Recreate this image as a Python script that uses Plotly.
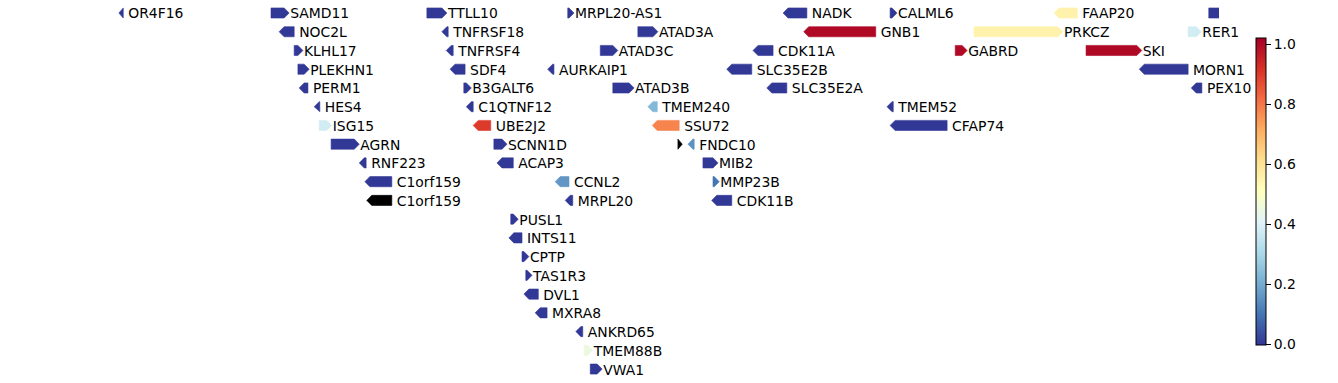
import plotly.graph_objects as go
import plotly.express as px
from plotly.colors import sample_colorscale

# ---- data (positions in kb) ----
genes = ["OR4F16", "SAMD11", "NOC2L", "KLHL17", "PLEKHN1", "PERM1", "HES4", "ISG15",
         "AGRN", "RNF223", "C1orf159", "C1orf159", "TTLL10", "TNFRSF18", "TNFRSF4",
         "SDF4", "B3GALT6", "C1QTNF12", "UBE2J2", "SCNN1D", "ACAP3", "PUSL1", "INTS11",
         "CPTP", "TAS1R3", "DVL1", "MXRA8", "AURKAIP1", "CCNL2", "MRPL20-AS1", "MRPL20",
         "ANKRD65", "TMEM88B", "VWA1", "ATAD3C", "ATAD3B", "ATAD3A", "TMEM240", "SSU72",
         "", "FNDC10", "MIB2", "MMP23B", "CDK11B", "SLC35E2B", "CDK11A", "SLC35E2A",
         "NADK", "GNB1", "CALML6", "TMEM52", "CFAP74", "GABRD", "PRKCZ", "FAAP20", "SKI",
         "MORN1", "RER1", "PEX10", "PLCH2"]
starts = [681, 924, 937, 961, 967, 969, 993, 1001,
          1020, 1065, 1074, 1077, 1173, 1197, 1204,
          1210, 1232, 1236, 1247, 1280, 1285, 1307, 1304,
          1325, 1331, 1328, 1346, 1366, 1378, 1398, 1394,
          1411, 1424, 1434, 1450, 1470, 1510, 1526, 1533,
          1574, 1590, 1614, 1630, 1628, 1652, 1694, 1716,
          1742, 1775, 1913, 1908, 1913, 2017, 2047, 2175, 2226,
          2311, 2389, 2394, 2422]
ends = [688, 953, 961, 975, 985, 983, 1002, 1021,
        1065, 1076, 1117, 1117, 1205, 1207, 1215,
        1234, 1244, 1247, 1275, 1301, 1311, 1319, 1325,
        1336, 1341, 1351, 1365, 1376, 1400, 1408, 1406,
        1422, 1438, 1453, 1478, 1504, 1542, 1541, 1576,
        1581, 1600, 1638, 1640, 1660, 1692, 1726, 1748,
        1780, 1890, 1924, 1918, 2004, 2036, 2189, 2212, 2315,
        2389, 2410, 2411, 2505]
strands = ["-", "+", "-", "+", "+", "-", "-", "+",
           "+", "-", "-", "-", "+", "-", "-",
           "-", "+", "-", "-", "+", "-", "+", "-",
           "+", "+", "-", "-", "-", "-", "+", "-",
           "-", "+", "+", "+", "+", "+", "-", "-",
           "+", "-", "+", "+", "-", "-", "-", "-",
           "-", "-", "+", "-", "-", "+", "+", "-", "+",
           "-", "+", "-", "+"]
rows = [0, 0, 1, 2, 3, 4, 5, 6,
        7, 8, 9, 10, 0, 1, 2,
        3, 4, 5, 6, 7, 8, 11, 12,
        13, 14, 15, 16, 3, 9, 0, 10,
        17, 18, 19, 2, 4, 1, 5, 6,
        7, 7, 8, 9, 10, 3, 2, 4,
        0, 1, 0, 5, 6, 2, 1, 0, 2,
        3, 1, 4, 0]
# None = no value (drawn black)
values = [0.0, 0.0, 0.0, 0.0, 0.0, 0.0, 0.0, 0.38,
          0.0, 0.0, 0.0, None, 0.0, 0.0, 0.0,
          0.0, 0.0, 0.0, 0.9, 0.0, 0.0, 0.0, 0.0,
          0.0, 0.0, 0.0, 0.0, 0.0, 0.16, 0.0, 0.0,
          0.0, 0.45, 0.0, 0.0, 0.0, 0.0, 0.23, 0.78,
          None, 0.15, 0.0, 0.1, 0.0, 0.0, 0.0, 0.0,
          0.0, 1.0, 0.0, 0.0, 0.0, 1.0, 0.55, 0.55, 1.0,
          0.0, 0.38, 0.0, 0.0]

cbar_ticks = [0.0, 0.2, 0.4, 0.6, 0.8, 1.0]

# ---- styling ----
KB_PER_PX = 1.5974
ROW_PX = 18.74
X_RANGE = [924 - 271 * KB_PER_PX, 924 + 948 * KB_PER_PX]
Y_RANGE = [(383 - 13) / ROW_PX, -13 / ROW_PX]
HEAD = 5 * KB_PER_PX
HALF_H = 0.27
TEXT_DY = 2.0 / ROW_PX
FONT = "DejaVu Sans"
FS = 13.9

scale = list(reversed(px.colors.diverging.RdYlBu))
cscale = [[i / (len(scale) - 1), c] for i, c in enumerate(scale)]
CMIN, CMAX = -0.003, 1.02


def color_of(v):
    if v is None:
        return "black"
    t = (v - CMIN) / (CMAX - CMIN)
    return sample_colorscale(cscale, [min(max(t, 0), 1)])[0]


fig = go.Figure()
lab_x, lab_y, lab_t = [], [], []
for g, s, e, st, r, v in zip(genes, starts, ends, strands, rows, values):
    w = e - s
    hl = min(HEAD, w)
    if st == "+":
        xs = [s, e - hl, e, e - hl, s, s]
        lx = e + 1.0 * KB_PER_PX
    else:
        xs = [e, s + hl, s, s + hl, e, e]
        lx = e + 5.0 * KB_PER_PX
    ys = [r - HALF_H, r - HALF_H, r, r + HALF_H, r + HALF_H, r - HALF_H]
    col = color_of(v)
    fig.add_trace(go.Scatter(x=xs, y=ys, mode="lines", fill="toself",
                             fillcolor=col, line=dict(color=col, width=0.6),
                             hoverinfo="skip", showlegend=False))
    if g and e < X_RANGE[1]:
        lab_x.append(lx)
        lab_y.append(r + TEXT_DY)
        lab_t.append(g)

fig.add_trace(go.Scatter(x=lab_x, y=lab_y, text=lab_t, mode="text",
                         textposition="middle right",
                         textfont=dict(family=FONT, size=FS, color="black"),
                         cliponaxis=False, hoverinfo="skip", showlegend=False))

# colorbar carrier
fig.add_trace(go.Scatter(
    x=[X_RANGE[0] - 100], y=[0], mode="markers",
    marker=dict(color=[0.5], colorscale=cscale, cmin=CMIN, cmax=CMAX, size=1,
                showscale=True,
                colorbar=dict(x=1256 / 1219, xanchor="left", xpad=0,
                              y=1 - 191.5 / 383, yanchor="middle", ypad=0,
                              len=307, lenmode="pixels", thickness=10,
                              outlinewidth=1, outlinecolor="black",
                              tickvals=cbar_ticks, ticktext=[f"{t:.1f}" for t in cbar_ticks],
                              ticks="outside", ticklen=5, tickcolor="black",
                              tickfont=dict(family=FONT, size=FS, color="black"))),
    hoverinfo="skip", showlegend=False))

fig.update_layout(
    width=1338, height=383, autosize=False,
    margin=dict(l=0, r=1338 - 1219, t=0, b=0, pad=0),
    plot_bgcolor="white", paper_bgcolor="white",
    xaxis=dict(range=X_RANGE, visible=False, showgrid=False, zeroline=False),
    yaxis=dict(range=Y_RANGE, visible=False, showgrid=False, zeroline=False),
    font=dict(family=FONT, size=FS, color="black"),
)

fig.write_html("out.html")
